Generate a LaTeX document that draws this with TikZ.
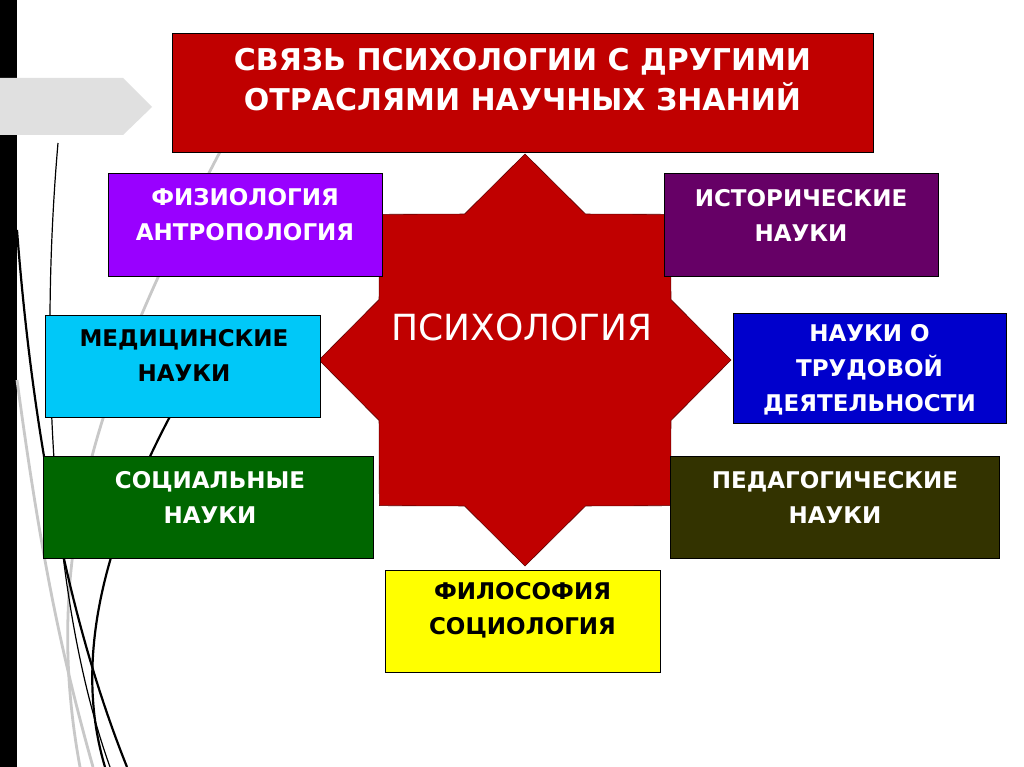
\documentclass[tikz,border=0pt]{standalone}
\usepackage{fontspec}
\setmainfont{DejaVu Sans}
\usetikzlibrary{positioning}

\definecolor{psyred}{HTML}{C00000}
\definecolor{fizcol}{HTML}{9900FF}
\definecolor{histcol}{HTML}{660066}
\definecolor{medcol}{HTML}{00C8F8}
\definecolor{trudcol}{HTML}{0000CC}
\definecolor{soccol}{HTML}{006600}
\definecolor{pedcol}{HTML}{333300}
\definecolor{philcol}{HTML}{FFFF00}
\definecolor{tabgrey}{HTML}{E0E0E0}
\definecolor{lightline}{HTML}{C8C8C8}

\tikzset{
  topicbox/.style={draw=black, line width=0.7pt, inner sep=0pt},
  topictext/.style={align=center, inner sep=0pt, text=white,
    font=\fontsize{23}{35}\selectfont\bfseries},
  deco/.style={line width=2.2pt},
}

\begin{document}
\begin{tikzpicture}[x=1pt,y=-1pt]
  % page, black border and grey tab
  \useasboundingbox (0,0) rectangle (1024,767);
  \fill[white] (0,0) rectangle (1024,767);
  \fill[black] (0,0) rectangle (17,767);
  \draw[deco, lightline, line width=2.8pt] (222,148) .. controls (100,380) and (40,550) .. (80,767);
  \draw[deco, lightline, line width=2.8pt] (17,380) .. controls (40,550) and (60,650) .. (93,767);
  \draw[deco, line width=1.2pt] (58,143) .. controls (40,350) and (50,600) .. (110,767);
  \draw[deco] (17,230) .. controls (30,400) and (60,600) .. (127,767);
  \draw[deco] (190,380) .. controls (110,520) and (70,650) .. (105,767);
  \fill[tabgrey] (0,78) -- (123,78) -- (152,107) -- (123,135) -- (0,135) -- cycle;

  % eight-pointed star
  \coordinate (core) at (525,360);
  \filldraw[fill=psyred, draw=black!50!psyred, line width=0.6pt]
    ([shift={(90:206)}]core)
    \foreach \k [evaluate=\k as \r using {mod(\k,2)==0 ? 206 : 158}] in {1,...,15}
      { -- ([shift={(90+\k*22.5:\r)}]core) } -- cycle;
  \node[text=white, font=\fontsize{36}{40}\selectfont] (psy) at (522,327) {ПСИХОЛОГИЯ};

  % title
  \node[topicbox, fill=psyred, minimum width=701pt, minimum height=119pt] (title) at (522.5,92.5) {};
  \node[topictext, font=\fontsize{30}{40}\selectfont\bfseries] (titletext) at (522.5,80)
    {СВЯЗЬ ПСИХОЛОГИИ С ДРУГИМИ\\ОТРАСЛЯМИ НАУЧНЫХ ЗНАНИЙ};

  % boxes round the star
  \node[topicbox, fill=fizcol, minimum width=274pt, minimum height=103pt] (fiz) at (245,224.5) {};
  \node[topictext] (fiztext) at (245,215) {ФИЗИОЛОГИЯ\\АНТРОПОЛОГИЯ};

  \node[topicbox, fill=histcol, minimum width=274pt, minimum height=103pt] (hist) at (801,224.5) {};
  \node[topictext] (histtext) at (801,215) {ИСТОРИЧЕСКИЕ\\НАУКИ};

  \node[topicbox, fill=medcol, minimum width=275pt, minimum height=102pt] (med) at (182.5,366) {};
  \node[topictext, text=black] (medtext) at (184,355) {МЕДИЦИНСКИЕ\\НАУКИ};

  \node[topicbox, fill=trudcol, minimum width=273pt, minimum height=110pt] (trud) at (869.5,368) {};
  \node[topictext] (trudtext) at (869.5,370) {НАУКИ О\\ТРУДОВОЙ\\ДЕЯТЕЛЬНОСТИ};

  \node[topicbox, fill=soccol, minimum width=330pt, minimum height=102pt] (soc) at (208,507) {};
  \node[topictext] (soctext) at (210,497) {СОЦИАЛЬНЫЕ\\НАУКИ};

  \node[topicbox, fill=pedcol, minimum width=329pt, minimum height=102pt] (ped) at (834.5,507) {};
  \node[topictext] (pedtext) at (835,497) {ПЕДАГОГИЧЕСКИЕ\\НАУКИ};

  \node[topicbox, fill=philcol, minimum width=275pt, minimum height=102pt] (phil) at (522.5,621) {};
  \node[topictext, text=black] (philtext) at (522.5,610) {ФИЛОСОФИЯ\\СОЦИОЛОГИЯ};
\end{tikzpicture}
\end{document}
